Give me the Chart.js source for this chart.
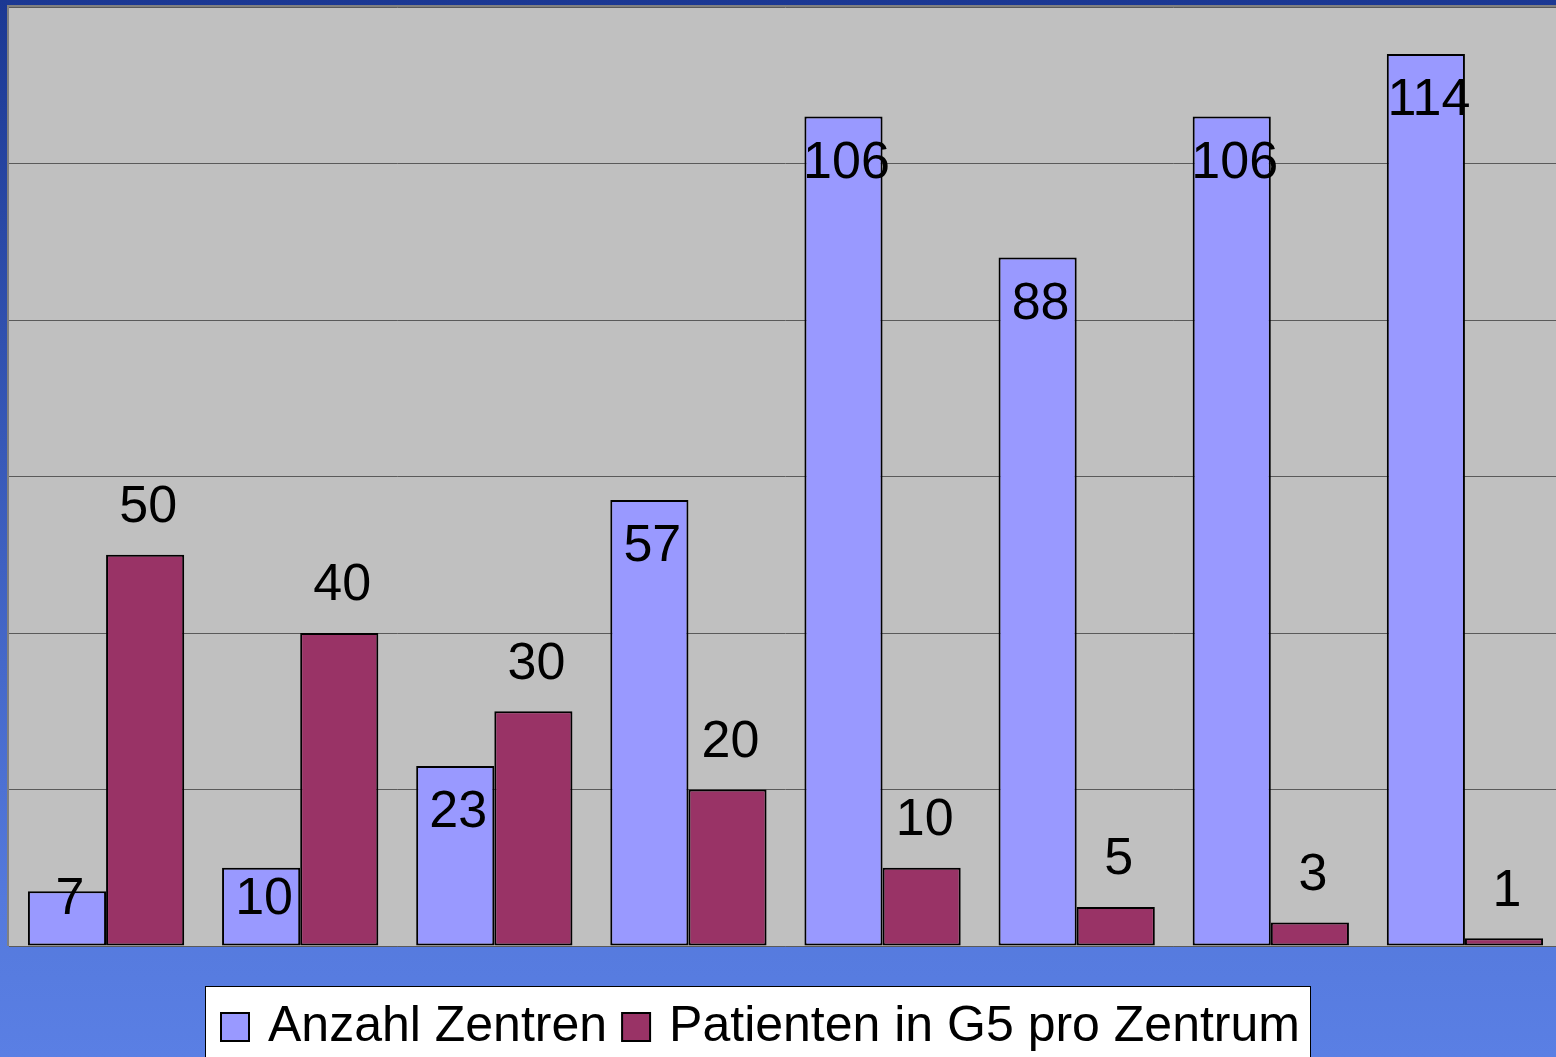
<!DOCTYPE html>
<html>
<head>
<meta charset="utf-8">
<script src="https://cdn.jsdelivr.net/npm/chart.js@4.4.1/dist/chart.umd.min.js"></script>
<style>
  html, body { margin: 0; padding: 0; background: #3d5fc4; overflow: hidden; }
  #wrap { width: 1556px; height: 1057px; overflow: hidden; }
</style>
</head>
<body>
<div id="wrap"><canvas id="chart" width="1562" height="1057"></canvas></div>
<script>
const categories = ["1", "2", "3", "4", "5", "6", "7", "8"];
const anzahlZentren = [7, 10, 23, 57, 106, 88, 106, 114];
const patientenProZentrum = [50, 40, 30, 20, 10, 5, 3, 1];
const seriesNames = ["Anzahl Zentren", "Patienten in G5 pro Zentrum"];
const seriesColors = ["#9999FF", "#993366"];

// page background + gray plot area
const backdrop = {
  id: "backdrop",
  beforeDraw(chart) {
    const ctx = chart.ctx;
    const a = chart.chartArea;
    ctx.save();
    const g = ctx.createLinearGradient(0, 0, 0, chart.height);
    g.addColorStop(0, "#1B3893");
    g.addColorStop(0.85, "#5479DC");
    g.addColorStop(1, "#5A7FE4");
    ctx.fillStyle = g;
    ctx.fillRect(0, 0, chart.width, chart.height);
    ctx.fillStyle = "#C0C0C0";
    ctx.fillRect(a.left - 2, a.top - 2, a.right - a.left + 2, a.bottom - a.top + 2);
    ctx.strokeStyle = "#808080";
    ctx.lineWidth = 2;
    ctx.beginPath();
    ctx.moveTo(a.left - 1, a.bottom);
    ctx.lineTo(a.left - 1, a.top - 1);
    ctx.lineTo(chart.width, a.top - 1);
    ctx.stroke();
    ctx.restore();
  }
};

// value labels, Excel style
const valueLabels = {
  id: "valueLabels",
  afterDatasetsDraw(chart) {
    const ctx = chart.ctx;
    ctx.save();
    ctx.font = "52px 'Liberation Sans', Arial, sans-serif";
    ctx.fillStyle = "#000";
    ctx.textAlign = "center";
    ctx.textBaseline = "middle";
    chart.data.datasets.forEach((ds, di) => {
      chart.getDatasetMeta(di).data.forEach((bar, i) => {
        let y;
        if (di === 0) y = Math.min(bar.y + 47, 900);
        else y = bar.y - 47;
        ctx.fillText(String(ds.data[i]), bar.x + 3, y);
      });
    });
    ctx.restore();
  }
};

// legend box at the bottom
const legendBox = {
  id: "legendBox",
  afterDraw(chart) {
    const ctx = chart.ctx;
    ctx.save();
    ctx.fillStyle = "#fff";
    ctx.strokeStyle = "#000";
    ctx.lineWidth = 1;
    ctx.fillRect(205, 986, 1106, 80);
    ctx.strokeRect(205.5, 986.5, 1105, 80);
    ctx.font = "50px 'Liberation Sans', Arial, sans-serif";
    ctx.textBaseline = "alphabetic";
    let x = 221;
    chart.data.datasets.forEach((ds) => {
      ctx.fillStyle = ds.backgroundColor;
      ctx.fillRect(x, 1013, 28, 28);
      ctx.strokeStyle = "#000";
      ctx.lineWidth = 2;
      ctx.strokeRect(x, 1013, 28, 28);
      ctx.fillStyle = "#000";
      ctx.fillText(ds.label, x + 47, 1041);
      x += 47 + ctx.measureText(ds.label).width + 15;
    });
    ctx.restore();
  }
};

new Chart(document.getElementById("chart"), {
  type: "bar",
  data: {
    labels: categories,
    datasets: [
      {
        label: seriesNames[0],
        data: anzahlZentren,
        backgroundColor: seriesColors[0],
        borderColor: "#000",
        borderWidth: 2,
        borderSkipped: false
      },
      {
        label: seriesNames[1],
        data: patientenProZentrum,
        backgroundColor: seriesColors[1],
        borderColor: "#000",
        borderWidth: 2,
        borderSkipped: false
      }
    ]
  },
  options: {
    responsive: false,
    animation: false,
    layout: { padding: { left: 9, top: 7, right: 0, bottom: 111 } },
    datasets: {
      bar: { categoryPercentage: 0.805, barPercentage: 1.0 }
    },
    scales: {
      x: { display: false },
      y: {
        min: 0,
        max: 120,
        ticks: { display: false, stepSize: 20 },
        border: { display: false },
        grid: { color: "#5a5a5a", lineWidth: 1, drawTicks: false }
      }
    },
    plugins: {
      legend: { display: false },
      tooltip: { enabled: false }
    }
  },
  plugins: [backdrop, valueLabels, legendBox]
});
</script>
</body>
</html>
